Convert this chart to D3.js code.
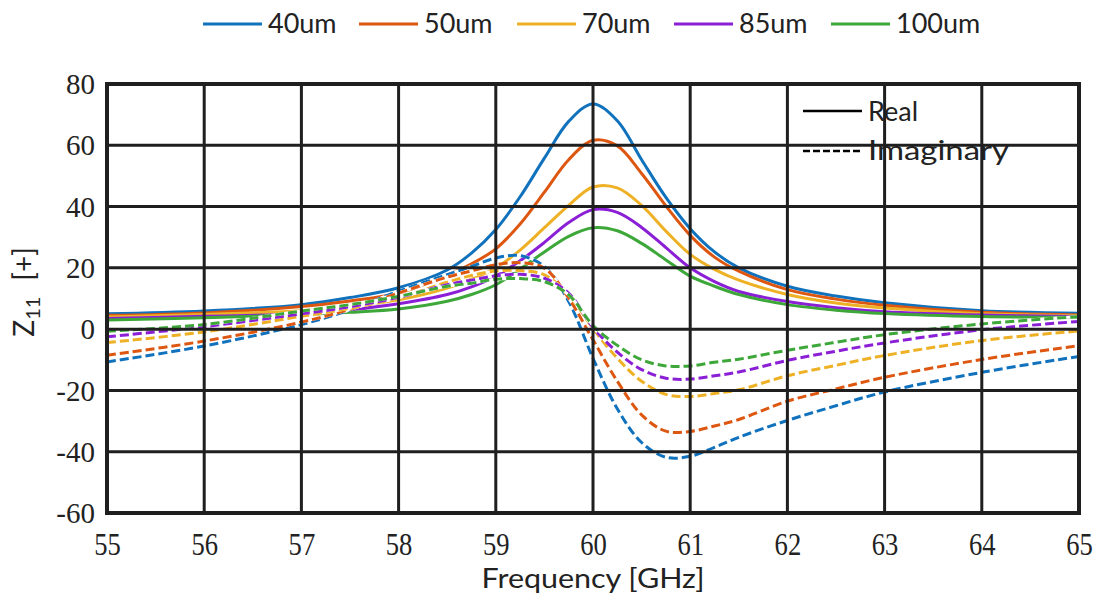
<!DOCTYPE html>
<html>
<head>
<meta charset="utf-8">
<script src="https://cdn.jsdelivr.net/npm/d3@7"></script>
<style>
  body { margin: 0; background: #fff; }
  svg { display: block; }
</style>
</head>
<body>
<svg id="chart" width="1102" height="594"></svg>
<script>
// Frequency sample points (GHz)
const freq = [55, 56, 57, 57.5, 58, 58.5, 58.75, 59, 59.25, 59.5, 59.75, 60,
              60.25, 60.5, 60.75, 61, 61.25, 61.5, 62, 62.5, 63, 64, 65];

// Series labels (line width)
const seriesNames = ["40um", "50um", "70um", "85um", "100um"];

// Real part of Z11
const real40  = [5.0, 5.9, 8.0, 10.3, 13.5, 19.3, 24.8, 32.5, 43.2, 55.8, 67.8, 73.5,
                 68.0, 55.3, 43.0, 32.8, 25.2, 20.0, 14.0, 10.8, 8.6, 6.0, 5.2];
const real50  = [4.5, 5.3, 7.4, 9.2, 11.8, 17.6, 21.3, 26.2, 34.3, 44.7, 55.3, 61.6,
                 59.8, 50.8, 40.2, 30.6, 23.5, 18.9, 12.9, 9.8, 7.8, 5.5, 4.6];
const real70  = [4.0, 4.8, 6.0, 7.5, 9.6, 13.4, 16.3, 20.0, 25.8, 33.1, 40.4, 46.4,
                 46.1, 40.4, 32.0, 24.4, 19.5, 16.0, 11.3, 8.5, 6.9, 5.0, 4.4];
const real85  = [3.5, 4.2, 5.0, 6.3, 8.3, 11.3, 13.8, 17.3, 22.3, 28.3, 34.8, 39.0,
                 38.1, 33.2, 26.6, 20.0, 15.5, 12.3, 9.0, 7.0, 5.7, 4.6, 4.1];
const real100 = [3.0, 3.7, 4.7, 5.5, 6.6, 9.1, 11.3, 14.5, 19.6, 25.2, 30.3, 33.1,
                 32.1, 28.0, 22.6, 17.3, 14.0, 11.3, 8.0, 6.2, 5.1, 4.1, 3.9];

// Imaginary part of Z11
const imag40  = [-10.7, -5.5, 1.5, 6.3, 12.4, 17.8, 20.5, 23.2, 24.0, 20.4, 9.0, -9.5,
                 -26.0, -37.0, -41.8, -41.5, -38.6, -35.3, -29.8, -25.0, -20.5, -14.1, -8.9];
const imag50  = [-8.5, -3.9, 2.3, 6.5, 11.8, 17.0, 19.0, 21.0, 21.7, 19.9, 10.1, -3.5,
                 -17.0, -28.0, -33.3, -33.4, -31.6, -29.5, -23.5, -19.5, -15.7, -9.9, -5.4];
const imag70  = [-4.4, -0.9, 4.2, 6.8, 10.2, 15.3, 17.5, 19.0, 19.1, 17.7, 11.2, 0.2,
                 -9.5, -17.0, -21.3, -22.0, -21.0, -19.8, -15.2, -11.8, -8.6, -3.7, -0.6];
const imag85  = [-2.5, 0.8, 5.0, 7.3, 10.4, 14.5, 16.0, 17.4, 17.9, 16.6, 11.7, 0.6,
                 -7.5, -13.2, -16.0, -16.3, -15.2, -14.0, -10.2, -7.2, -4.5, -0.2, 2.5];
const imag100 = [-0.7, 1.5, 5.9, 8.0, 10.7, 14.0, 15.0, 16.3, 16.5, 15.5, 11.2, 1.2,
                 -5.3, -10.0, -12.0, -12.0, -10.8, -9.8, -6.9, -4.3, -1.8, 1.7, 4.1];

// Axis ticks
const xTicks = [55, 56, 57, 58, 59, 60, 61, 62, 63, 64, 65];
const yTicks = [-60, -40, -20, 0, 20, 40, 60, 80];

const realSeries = [real40, real50, real70, real85, real100];
const imagSeries = [imag40, imag50, imag70, imag85, imag100];
const palette = ["#1071BC", "#DD5711", "#EEB126", "#8B1FD6", "#3DA739"];

const svg = d3.select("#chart");
const plot = { left: 107, right: 1079, top: 84, bottom: 513 };

const x = d3.scaleLinear().domain([55, 65]).range([plot.left, plot.right]);
const y = d3.scaleLinear().domain([-60, 80]).range([plot.bottom, plot.top]);

const line = d3.line()
  .x(d => x(d[0]))
  .y(d => y(d[1]))
  .curve(d3.curveCatmullRom.alpha(0.5));

const pairs = vals => freq.map((f, i) => [f, vals[i]]);

svg.append("clipPath").attr("id", "plotClip")
  .append("rect")
  .attr("x", plot.left).attr("y", plot.top)
  .attr("width", plot.right - plot.left).attr("height", plot.bottom - plot.top);

const curves = svg.append("g").attr("clip-path", "url(#plotClip)");

// Solid lines: real part
realSeries.forEach((vals, i) => {
  curves.append("path")
    .attr("d", line(pairs(vals)))
    .attr("fill", "none")
    .attr("stroke", palette[i])
    .attr("stroke-width", 3);
});

// Dashed lines: imaginary part (white underlay shows through the gaps)
imagSeries.forEach((vals, i) => {
  curves.append("path")
    .attr("d", line(pairs(vals)))
    .attr("fill", "none")
    .attr("stroke", "#fff")
    .attr("stroke-width", 3);
  curves.append("path")
    .attr("d", line(pairs(vals)))
    .attr("fill", "none")
    .attr("stroke", palette[i])
    .attr("stroke-width", 3)
    .attr("stroke-dasharray", "9,4");
});

// Line-style key inside the plot
const key = svg.append("g");
key.append("line").attr("x1", 803).attr("x2", 862).attr("y1", 111).attr("y2", 111)
  .attr("stroke", "#000").attr("stroke-width", 2.5);
key.append("line").attr("x1", 803).attr("x2", 862).attr("y1", 151).attr("y2", 151)
  .attr("stroke", "#000").attr("stroke-width", 2.5).attr("stroke-dasharray", "7,3");
key.append("text").attr("x", 868).attr("y", 121)
  .attr("font-family", "Lato, 'Open Sans', sans-serif").attr("font-size", 27)
  .attr("fill", "#222").text("Real");
key.append("text").attr("x", 868).attr("y", 160)
  .attr("font-family", "Lato, 'Open Sans', sans-serif").attr("font-size", 27)
  .attr("fill", "#222").attr("textLength", 141).attr("lengthAdjust", "spacingAndGlyphs")
  .text("Imaginary");

// Grid drawn above the curves
const grid = svg.append("g").attr("stroke", "#1f1f1f").attr("stroke-width", 3);
grid.selectAll("line.v").data(xTicks).join("line")
  .attr("class", "v")
  .attr("x1", d => x(d)).attr("x2", d => x(d))
  .attr("y1", plot.top).attr("y2", plot.bottom);
grid.selectAll("line.h").data(yTicks).join("line")
  .attr("class", "h")
  .attr("x1", plot.left).attr("x2", plot.right)
  .attr("y1", d => y(d)).attr("y2", d => y(d));

svg.append("rect")
  .attr("x", plot.left).attr("y", plot.top)
  .attr("width", plot.right - plot.left).attr("height", plot.bottom - plot.top)
  .attr("fill", "none").attr("stroke", "#1f1f1f").attr("stroke-width", 4);

// Tick labels (plain hyphen for negatives)
const plain = d => String(d);

const xAxis = d3.axisBottom(x).tickValues(xTicks).tickSize(0).tickPadding(0).tickFormat(plain);
const xg = svg.append("g").attr("transform", `translate(0, ${plot.bottom})`).call(xAxis);
xg.select(".domain").remove();
xg.selectAll("text")
  .attr("font-family", "'Liberation Serif', 'Times New Roman', serif")
  .attr("font-size", 28).attr("fill", "#222")
  .attr("dy", 0).attr("y", 0)
  .attr("transform", "translate(0, 42) scale(0.95, 1.1)");

const yAxis = d3.axisLeft(y).tickValues(yTicks).tickSize(0).tickPadding(0).tickFormat(plain);
const yg = svg.append("g").attr("transform", `translate(${plot.left - 12}, 0)`).call(yAxis);
yg.select(".domain").remove();
yg.selectAll("text")
  .attr("font-family", "'Liberation Serif', 'Times New Roman', serif")
  .attr("font-size", 29).attr("fill", "#222")
  .attr("dy", "0.33em").attr("x", 0);

// Axis titles
svg.append("text")
  .attr("x", (plot.left + plot.right) / 2).attr("y", 588)
  .attr("text-anchor", "middle")
  .attr("font-family", "Lato, 'Open Sans', sans-serif").attr("font-size", 26)
  .attr("fill", "#222").attr("textLength", 223).attr("lengthAdjust", "spacingAndGlyphs")
  .text("Frequency [GHz]");

const yTitle = svg.append("text")
  .attr("transform", "translate(34, 292) rotate(-90)")
  .attr("text-anchor", "middle")
  .attr("font-family", "Lato, 'Open Sans', sans-serif").attr("font-size", 28)
  .attr("fill", "#222");
yTitle.append("tspan").text("Z");
yTitle.append("tspan").attr("font-size", 20).attr("dy", 6).text("11");
yTitle.append("tspan").attr("dy", -6).attr("dx", 16).text("[+]");

// Series legend across the top
const legendX = [203, 359, 517, 674, 831];
const legend = svg.append("g");
seriesNames.forEach((name, i) => {
  legend.append("line")
    .attr("x1", legendX[i]).attr("x2", legendX[i] + 59)
    .attr("y1", 24).attr("y2", 24)
    .attr("stroke", palette[i]).attr("stroke-width", 3);
  legend.append("text")
    .attr("x", legendX[i] + 65).attr("y", 33)
    .attr("font-family", "Lato, 'Open Sans', sans-serif").attr("font-size", 27)
    .attr("fill", "#222").text(name);
});
</script>
</body>
</html>
